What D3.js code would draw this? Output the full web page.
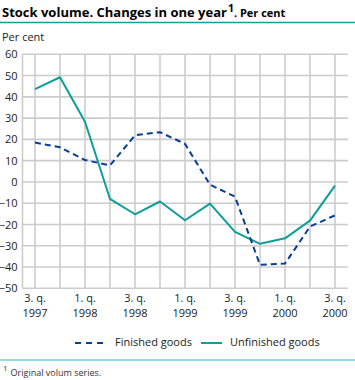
<!DOCTYPE html>
<html>
<head>
<meta charset="utf-8">
<script src="https://cdn.jsdelivr.net/npm/d3@7"></script>
<style>
html,body{margin:0;padding:0;background:#fff;}
svg{display:block;font-family:"Open Sans","Noto Sans",sans-serif;}
</style>
</head>
<body>
<svg id="chart" width="355" height="380"></svg>
<script>
const quarters = ["3q1997","4q1997","1q1998","2q1998","3q1998","4q1998","1q1999","2q1999","3q1999","4q1999","1q2000","2q2000","3q2000"];
const tickLabels = [["3. q.","1997"],null,["1. q.","1998"],null,["3. q.","1998"],null,["1. q.","1999"],null,["3. q.","1999"],null,["1. q.","2000"],null,["3. q.","2000"]];
const finishedGoods = [18.5,16.3,10.3,7.8,21.9,23.4,17.9,-1.3,-6.9,-39,-38.4,-21,-15.7];
const unfinishedGoods = [43.6,49.2,28.3,-8,-15.2,-9.2,-18,-10.2,-23.5,-29.1,-26.5,-18.2,-1.7];
const yTicks = [60,50,40,30,20,10,0,-10,-20,-30,-40,-50];
const seriesNames = ["Finished goods","Unfinished goods"];

const svg = d3.select("#chart");
const blue = "#0a3d96", teal = "#0d9e98";

// title
const t = svg.append("text").attr("x",2).attr("y",17).attr("font-weight","bold").attr("font-size",13).attr("fill","#000");
t.append("tspan").text("Stock volume. Changes in one year");
t.append("tspan").attr("font-size",10.5).attr("dx",1).attr("dy",-5).text("1");
t.append("tspan").attr("font-size",11).attr("dy",5).text(". Per cent");
svg.append("line").attr("x1",0).attr("x2",355).attr("y1",22.5).attr("y2",22.5).attr("stroke","#12a09a").attr("stroke-width",1.5);
svg.append("text").attr("x",2).attr("y",41).attr("font-size",11).attr("fill","#222").text("Per cent");

const x = d3.scalePoint().domain(quarters).range([22.5,347.5]).padding(0.5);
const y = d3.scaleLinear().domain([-50,60]).range([288.3,54.3]);

const g = svg.append("g");
// horizontal grid
g.selectAll(".hg").data(yTicks).join("line")
  .attr("x1",22.5).attr("x2",348).attr("y1",d=>y(d)).attr("y2",d=>y(d))
  .attr("stroke","#cccccc").attr("stroke-width",1.6);
// vertical grid
g.selectAll(".vg").data(quarters).join("line")
  .attr("x1",d=>x(d)).attr("x2",d=>x(d)).attr("y1",y(60)).attr("y2",y(-50))
  .attr("stroke","#cccccc").attr("stroke-width",1.6);
g.append("line").attr("x1",22.5).attr("x2",22.5).attr("y1",y(60)).attr("y2",y(-50)).attr("stroke","#cccccc").attr("stroke-width",1.6);

// y axis labels
const yAxis = d3.axisLeft(y).tickValues(yTicks).tickSize(0).tickPadding(0).tickFormat(d3.format("d"));
const ya = svg.append("g").attr("transform","translate(17.5,0)").call(yAxis);
ya.select(".domain").remove();
ya.selectAll("text").attr("font-size",11).attr("fill","#222").attr("font-family","'Open Sans','Noto Sans',sans-serif");

// x axis labels
const xa = svg.append("g");
quarters.forEach((q,i)=>{
  const lab = tickLabels[i];
  if(!lab) return;
  const tx = xa.append("text").attr("x",x(q)).attr("text-anchor","middle").attr("font-size",11).attr("fill","#222");
  tx.append("tspan").attr("x",x(q)).attr("y",302).text(lab[0]);
  tx.append("tspan").attr("x",x(q)).attr("y",317).text(lab[1]);
});

// lines
const line = d3.line().x((d,i)=>x(quarters[i])).y(d=>y(d));
svg.append("path").datum(unfinishedGoods).attr("d",line).attr("fill","none").attr("stroke",teal).attr("stroke-width",2).attr("stroke-linejoin","round");
svg.append("path").datum(finishedGoods).attr("d",line).attr("fill","none").attr("stroke",blue).attr("stroke-width",2).attr("stroke-dasharray","6,4").attr("stroke-linejoin","round");

// legend
const lg = svg.append("g");
lg.append("line").attr("x1",75).attr("x2",106).attr("y1",343).attr("y2",343).attr("stroke",blue).attr("stroke-width",2).attr("stroke-dasharray","6,5");
lg.append("text").attr("x",115).attr("y",346).attr("font-size",11).attr("fill","#222").text(seriesNames[0]);
lg.append("line").attr("x1",201).attr("x2",222).attr("y1",343).attr("y2",343).attr("stroke",teal).attr("stroke-width",2);
lg.append("text").attr("x",230).attr("y",346).attr("font-size",11).attr("fill","#222").text(seriesNames[1]);

svg.append("line").attr("x1",0).attr("x2",355).attr("y1",360).attr("y2",360).attr("stroke","#72d0cf").attr("stroke-width",1.5);
const fn = svg.append("text").attr("x",3).attr("y",376).attr("fill","#333");
fn.append("tspan").attr("font-size",8).attr("dy",-5).text("1");
fn.append("tspan").attr("font-size",9).attr("dx",3).attr("dy",5).text("Original volum series.");
</script>
</body>
</html>
